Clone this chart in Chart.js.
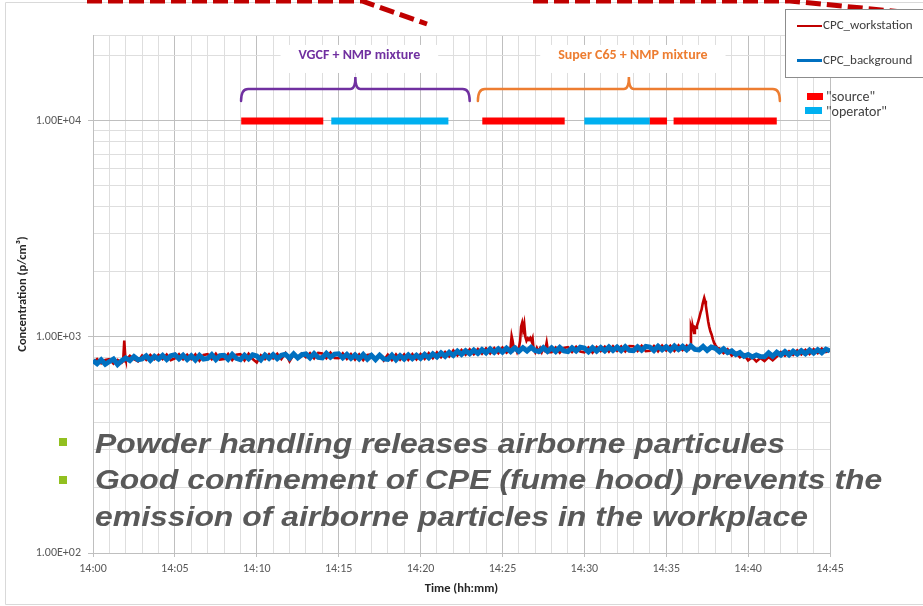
<!DOCTYPE html>
<html>
<head>
<meta charset="utf-8">
<script src="https://cdn.jsdelivr.net/npm/chart.js@4.4.1/dist/chart.umd.min.js"></script>
<style>
html,body{margin:0;padding:0;background:#fff;overflow:hidden}
#wrap{position:relative;width:923px;height:606px;overflow:hidden;background:#fff}
#c{position:absolute;left:0;top:0}
.ov{position:absolute;white-space:nowrap}
.lg{font-family:Carlito,Lato,"Noto Sans",sans-serif;color:#404040}
.big{font-family:"Liberation Sans",Arial,sans-serif;font-weight:bold;font-style:italic;font-size:28px;line-height:28px;color:#595959;left:95px;transform:scaleX(1.14);transform-origin:0 0}
.bul{position:absolute;left:59px;width:8px;height:8px;background:#92C020}
</style>
</head>
<body>
<div id="wrap">
<canvas id="c" width="923" height="606"></canvas>
<svg class="ov" style="left:0;top:0" width="923" height="606">
  <path d="M5.5,2.5 L923,2.5 M5.5,2.5 L5.5,604.5 L923,604.5" fill="none" stroke="#D9D9D9" stroke-width="1"/>
  <path d="M87,1 L362,1 L427,24" fill="none" stroke="#C00000" stroke-width="5" stroke-dasharray="15 6"/>
  <path d="M533,1 L790,1 L923,14" fill="none" stroke="#C00000" stroke-width="5" stroke-dasharray="15 6"/>
</svg>
<div class="ov" style="left:785px;top:9px;width:150px;height:67px;border:1px solid #8C8C8C;background:#fff"></div>
<div class="ov" style="left:797px;top:25px;width:25px;height:2px;background:#C00000"></div>
<div class="ov lg" style="left:823px;top:17px;font-size:13px;line-height:16px">CPC_workstation</div>
<div class="ov" style="left:797px;top:59px;width:25px;height:3px;background:#0070C0"></div>
<div class="ov lg" style="left:823px;top:52px;font-size:13px;line-height:16px">CPC_background</div>
<div class="ov" style="left:807px;top:93px;width:16px;height:7px;background:#FF0000"></div>
<div class="ov lg" style="left:826px;top:88px;font-size:14px;line-height:17px">"source"</div>
<div class="ov" style="left:805px;top:107px;width:17px;height:7px;background:#00B0F0"></div>
<div class="ov lg" style="left:826px;top:103px;font-size:14px;line-height:17px">"operator"</div>
<div class="bul" style="top:438px"></div>
<div class="bul" style="top:476px"></div>
<div class="ov big" style="top:430px">Powder handling releases airborne particules</div>
<div class="ov big" style="top:466px">Good confinement of CPE (fume hood) prevents the</div>
<div class="ov big" style="top:503px">emission of airborne particles in the workplace</div>
</div>
<script>
// ---- data (time in minutes after 14:00, 15 s sampling) ----
const startHour = 14;
const sampleStep = 0.25;
const cpcBackground = [
778,752,784,748, 770,790,745,776, 800,778,812,784, 792,818,780,815,
790,822,786,818, 828,792,824,786, 818,782,822,790, 795,828,786,820,
822,788,830,796, 786,824,792,826, 816,784,826,796, 828,794,822,832,
798,836,800,828, 834,800,838,804, 800,840,806,832, 836,800,830,796,
826,792,830,790, 822,786,824,792, 788,824,784,820, 790,826,794,824,
796,830,800,836, 808,844,814,850, 822,860,830,864, 836,870,840,874,
844,880,848,882, 850,888,856,890, 858,892,862,896, 864,856,892,858,
890,856,894,862, 856,892,862,896, 888,854,892,860, 894,862,900,866,
898,864,902,868, 864,900,868,904, 898,866,906,872, 902,868,908,874,
905,872,910,876, 872,904,866,898, 886,854,882,846, 862,830,848,814,
830,808,826,812, 810,844,814,850, 824,856,826,860, 834,864,836,870,
842,874,845,878, 862
];
const cpcWorkstation = [
760,790,756,782, 790,752,784,760, 782,818,790,772, 820,784,826,790,
826,790,830,782, 796,832,788,828, 790,830,776,826, 832,790,836,786,
790,834,782,828, 832,780,836,790, 762,822,790,832, 796,836,790,840,
772,830,798,838, 806,842,796,844, 838,798,846,800, 798,840,792,834,
786,830,782,826, 830,782,828,778, 828,782,830,786, 830,784,832,788,
834,792,842,798, 848,806,852,812, 866,822,870,828, 876,832,880,836,
886,840,888,842, 892,846,896,850, 898,852,900,854, 852,896,848,892,
850,894,846,890, 898,852,900,856, 850,894,846,898, 860,902,856,906,
862,904,858,908, 906,862,910,860, 864,908,858,912, 866,910,862,914,
870,912,866,916, 910,868,902,864, 848,884,842,878, 820,846,806,830,
780,806,770,800, 774,808,780,812, 852,820,858,826, 866,830,872,834,
878,842,884,852, 866
];
// detailed peaks of the workstation counter
const peak1Times  = [1.84, 1.91, 1.98];
const peak1Values = [775, 963, 792];
const peak2Times  = [25.45,25.5,25.56,25.62,25.7,25.8,25.9,26.0,26.08,26.14,26.2,26.26,26.33,26.4,26.47,26.55,26.62,26.7,26.78,26.84,26.9,27.0,27.1,27.2,27.3,27.4,27.5,27.6,27.65,27.7,27.76,27.85];
const peak2Values = [870,900,1009,960,875,895,850,885,960,1120,1163,1080,1150,1000,960,985,970,990,955,985,880,850,890,856,888,852,890,860,900,943,880,850];
const peak3Times  = [36.4,36.47,36.51,36.58,36.63,36.7,36.75,36.82,36.87,36.94,37.02,37.1,37.16,37.22,37.28,37.32,37.37,37.42,37.48,37.56,37.62,37.7,37.77,37.85,37.92,37.97,38.05,38.12];
const peak3Values = [880,895,1122,1080,1106,1045,1110,1100,1125,1167,1230,1300,1341,1420,1480,1518,1470,1400,1300,1183,1120,1060,1027,975,940,923,905,888];
// activity periods (minutes after 14:00)
const sourcePeriods   = [[9.05,14.06],[23.77,28.8],[34.0,35.05],[35.45,41.75]];
const operatorPeriods = [[14.55,21.7],[30.0,34.0]];
const activityLevel = 10000;
const mixtureNames  = ["VGCF + NMP mixture", "Super C65 + NMP mixture"];
const mixturePeriods = [[9.04,23.0],[23.5,41.94]];
const mixtureColors = ["#7030A0", "#ED7D31"];
const yMajorLabels = {100:"1.00E+02", 1000:"1.00E+03", 10000:"1.00E+04"};
const yMin = 100, yMax = 25000;
const xMin = 0, xMax = 45;

// ---- build datasets ----
const bgPts = cpcBackground.map((v,i)=>({x:i*sampleStep, y:v}));
const peaks = [[peak1Times,peak1Values],[peak2Times,peak2Values],[peak3Times,peak3Values]];
let wsPts = cpcWorkstation.map((v,i)=>({x:i*sampleStep, y:v}))
  .filter(p => !peaks.some(([t]) => p.x >= t[0] && p.x <= t[t.length-1]));
peaks.forEach(([t,v]) => t.forEach((tt,i)=>wsPts.push({x:tt,y:v[i]})));
wsPts.sort((a,b)=>a.x-b.x);
function periodPts(periods){
  const pts=[];
  periods.forEach(([a,b])=>{pts.push({x:a,y:activityLevel});pts.push({x:b,y:activityLevel});pts.push({x:b+0.001,y:null});});
  return pts;
}
const yTicks=[];
[100,1000,10000].forEach(d=>{for(let k=1;k<=9;k++){if(k*d<=yMax)yTicks.push(k*d);}});
yTicks.push(yMax);

const FONT = "Carlito, Lato, 'Noto Sans', sans-serif";

const bracePlugin = {
  id:'braces',
  afterDatasetsDraw(chart){
    const ctx=chart.ctx, xs=chart.scales.x, ys=chart.scales.y;
    const yBase = ys.getPixelForValue(activityLevel);
    const yEnd = yBase-20, yMid = yBase-32, yTip = yBase-44;
    ctx.save();
    mixturePeriods.forEach(([a,b],i)=>{
      const x1=xs.getPixelForValue(a), x2=xs.getPixelForValue(b), xm=(x1+x2)/2;
      const r=7, rt=5;
      ctx.strokeStyle=mixtureColors[i]; ctx.lineWidth=2.5; ctx.lineCap='round';
      ctx.beginPath();
      ctx.moveTo(x1,yEnd);
      ctx.quadraticCurveTo(x1,yMid,x1+r,yMid);
      ctx.lineTo(xm-rt,yMid);
      ctx.quadraticCurveTo(xm,yMid,xm,yTip);
      ctx.quadraticCurveTo(xm,yMid,xm+rt,yMid);
      ctx.lineTo(x2-r,yMid);
      ctx.quadraticCurveTo(x2,yMid,x2,yEnd);
      ctx.stroke();
      ctx.font="bold 14px "+FONT;
      const w=ctx.measureText(mixtureNames[i]).width;
      const cx=xm+4, cy=yBase-65;
      ctx.fillStyle='#fff';
      ctx.fillRect(cx-w/2-18, cy-11, w+36, 28);
      ctx.fillStyle=mixtureColors[i];
      ctx.textAlign='center'; ctx.textBaseline='middle';
      ctx.fillText(mixtureNames[i],cx,cy);
    });
    ctx.restore();
  }
};

new Chart(document.getElementById('c'),{
  type:'line',
  data:{datasets:[
    {label:'CPC_background', data:bgPts, borderColor:'#0070C0', borderWidth:5, pointRadius:0, order:0},
    {label:'CPC_workstation', data:wsPts, borderColor:'#C00000', borderWidth:2.6, pointRadius:0, order:1},
    {label:'"source"', data:periodPts(sourcePeriods), borderColor:'#FF0000', borderWidth:7, borderCapStyle:'butt', pointRadius:0, spanGaps:false, order:2},
    {label:'"operator"', data:periodPts(operatorPeriods), borderColor:'#00B0F0', borderWidth:7, borderCapStyle:'butt', pointRadius:0, spanGaps:false, order:3}
  ]},
  options:{
    responsive:false, animation:false, devicePixelRatio:1,
    layout:{padding:{left:0,right:93,top:35,bottom:0}},
    plugins:{legend:{display:false},tooltip:{enabled:false}},
    elements:{line:{tension:0}},
    scales:{
      x:{type:'linear', min:xMin, max:xMax,
        afterFit(s){s.height=53;},
        border:{color:'#BFBFBF'},
        grid:{color:c=>(c.tick && c.tick.value%5===0)?'#BFBFBF':'#DEDEDE', tickLength:4,
              tickColor:c=>(c.tick && c.tick.value%5===0)?'#BFBFBF':'rgba(0,0,0,0)'},
        ticks:{stepSize:1, autoSkip:false, maxRotation:0, padding:5, color:'#595959',
               font:{family:FONT,size:12},
               callback:v=> v%5===0 ? startHour+':'+String(v).padStart(2,'0') : ''},
        title:{display:true,text:'Time (hh:mm)',color:'#262626',font:{family:FONT,size:12.5,weight:'bold'},padding:{top:0,bottom:10}}
      },
      y:{type:'logarithmic', min:yMin, max:yMax,
        afterFit(s){s.width=93;},
        afterBuildTicks(s){s.ticks=yTicks.map(v=>({value:v}));},
        border:{color:'#BFBFBF'},
        grid:{color:c=>(c.tick && yMajorLabels[c.tick.value])?'#BFBFBF':'#DEDEDE', tickLength:5,
              tickColor:c=>(c.tick && yMajorLabels[c.tick.value])?'#BFBFBF':'rgba(0,0,0,0)'},
        ticks:{autoSkip:false, padding:7, color:'#595959', font:{family:FONT,size:12},
               callback:v=> yMajorLabels[v] || ''},
        title:{display:true,text:'Concentration (p/cm³)',color:'#262626',font:{family:FONT,size:12.5,weight:'bold'},padding:{top:15,bottom:0}}
      }
    }
  },
  plugins:[bracePlugin]
});
</script>
</body>
</html>
